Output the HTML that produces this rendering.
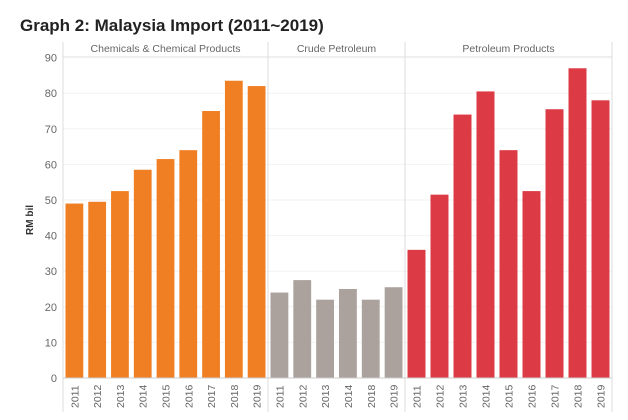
<!DOCTYPE html>
<html><head><meta charset="utf-8"><style>
body{margin:0;background:#fff;width:628px;height:415px;overflow:hidden;font-family:"Liberation Sans",sans-serif}
</style></head><body>
<svg width="628" height="415">
<text x="20" y="31" font-size="17" font-weight="bold" fill="#222">Graph 2: Malaysia Import (2011~2019)</text>
<g id="g"></g>
</svg>
<script>
const panels=["Chemicals & Chemical Products","Crude Petroleum","Petroleum Products"];
const chemYears=["2011","2012","2013","2014","2015","2016","2017","2018","2019"];
const chemValues=[49,49.5,52.5,58.5,61.5,64,75,83.5,82];
const crudeYears=["2011","2012","2013","2014","2018","2019"];
const crudeValues=[24,27.5,22,25,22,25.5];
const petroYears=["2011","2012","2013","2014","2015","2016","2017","2018","2019"];
const petroValues=[36,51.5,74,80.5,64,52.5,75.5,87,78];
const yTicks=[0,10,20,30,40,50,60,70,80,90];
const colors=["#f07f24","#aba29d","#dc3b45"];
const ns="http://www.w3.org/2000/svg",g=document.getElementById('g');
const y0=378,k=3.56,y=v=>y0-v*k;
function mk(t,a,txt){const e=document.createElementNS(ns,t);for(const n in a)e.setAttribute(n,a[n]);if(txt!=null)e.textContent=txt;g.appendChild(e);return e;}
const bounds=[[63,268],[268,405],[405,612]];
const years=[chemYears,crudeYears,petroYears],vals=[chemValues,crudeValues,petroValues];
mk('line',{x1:63,x2:612,y1:57,y2:57,stroke:'#ddd'});
yTicks.forEach(t=>{
 const l=mk('line',{x1:63,x2:612,y1:y(t),y2:y(t),stroke:'#f2f2f2'});
 const e=mk('text',{x:57,y:y(t)+4,'text-anchor':'end','font-size':11,fill:'#666'},t);
 
 
});
const yt=mk('text',{x:33,y:220,'font-size':10,'font-weight':'bold',fill:'#333',transform:'rotate(-90 33 220)','text-anchor':'middle'},'RM bil');


bounds.forEach((b,p)=>{
 const h=mk('text',{x:(b[0]+b[1])/2,y:52,'text-anchor':'middle','font-size':10.5,fill:'#666'},panels[p]);
 
 
 const bw=(b[1]-b[0])/years[p].length;
 years[p].forEach((yr,i)=>{
  const x=b[0]+i*bw+2.5,w=bw-5,v=vals[p][i];
  const r=mk('rect',{x:x,y:y(v),width:w,height:y0-y(v),fill:colors[p]});
  
  
  const cx=x+w/2+4;
  const t=mk('text',{x:cx,y:408,'font-size':10.5,fill:'#666',transform:`rotate(-90 ${cx} 408)`},yr);
  
  
 });
});
[63,268,405,612].forEach(x=>mk('line',{x1:x,x2:x,y1:42,y2:412,stroke:'#ddd'}));
mk('line',{x1:63,x2:612,y1:y0,y2:y0,stroke:'#ccc'});
</script>
</body></html>
